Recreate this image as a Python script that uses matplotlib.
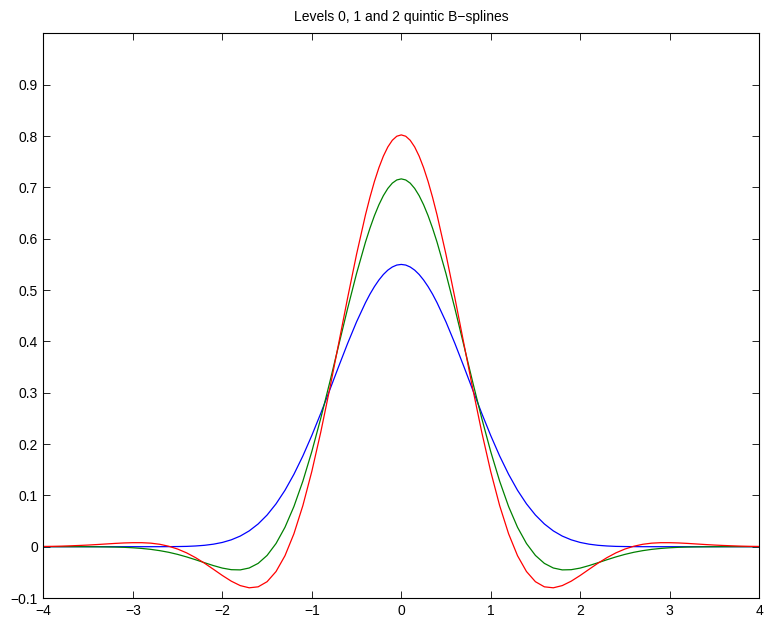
import matplotlib

matplotlib.use("Agg")
import matplotlib.pyplot as plt
from matplotlib.ticker import FuncFormatter

plt.rcParams["font.family"] = ["Liberation Sans", "DejaVu Sans"]

xs = [-4.0, -3.9, -3.8, -3.7, -3.6, -3.5, -3.4, -3.3, -3.2, -3.1, -3.0, -2.9, -2.8, -2.7,
      -2.6, -2.5, -2.4, -2.3, -2.2, -2.1, -2.0, -1.9, -1.8, -1.7, -1.6, -1.5, -1.4, -1.3,
      -1.2, -1.1, -1.0, -0.9, -0.8, -0.7, -0.6, -0.5, -0.4, -0.35, -0.3, -0.25, -0.2,
      -0.15, -0.1, -0.05, 0.0, 0.05, 0.1, 0.15, 0.2, 0.25, 0.3, 0.35, 0.4, 0.5, 0.6, 0.7,
      0.8, 0.9, 1.0, 1.1, 1.2, 1.3, 1.4, 1.5, 1.6, 1.7, 1.8, 1.9, 2.0, 2.1, 2.2, 2.3, 2.4,
      2.5, 2.6, 2.7, 2.8, 2.9, 3.0, 3.1, 3.2, 3.3, 3.4, 3.5, 3.6, 3.7, 3.8, 3.9, 4.0]

# level 0 (blue)
level0 = [0.0, 0.0, 0.0, 0.0, 0.0, 0.0, 0.0, 0.0, 0.0, 0.0, 0.0, 0.0, 0.0, 0.0,
          0.0001, 0.0003, 0.0006, 0.0014, 0.0027, 0.0049, 0.0083, 0.0134, 0.0207, 0.0308,
          0.0443, 0.0617, 0.0835, 0.1099, 0.1411, 0.1768, 0.2167, 0.2598, 0.3051, 0.3510,
          0.3959, 0.4380, 0.4755, 0.4921, 0.5068, 0.5196, 0.5304, 0.5389, 0.5450, 0.5488,
          0.5500,
          0.5488, 0.5450, 0.5389, 0.5304, 0.5196, 0.5068, 0.4921, 0.4755, 0.4380, 0.3959,
          0.3510, 0.3051, 0.2598, 0.2167, 0.1768, 0.1411, 0.1099, 0.0835, 0.0617, 0.0443,
          0.0308, 0.0207, 0.0134, 0.0083, 0.0049, 0.0027, 0.0014, 0.0006, 0.0003, 0.0001,
          0.0, 0.0, 0.0, 0.0, 0.0, 0.0, 0.0, 0.0, 0.0, 0.0, 0.0, 0.0, 0.0, 0.0]

# level 1 (green)
level1 = [0.0, 0.0, 0.0, 0.0, 0.0, -0.0001, -0.0002, -0.0004, -0.0007, -0.0012, -0.0021,
          -0.0034, -0.0052, -0.0077, -0.0109, -0.0150, -0.0199, -0.0254, -0.0312, -0.0368,
          -0.0417, -0.0448, -0.0452, -0.0415, -0.0325, -0.0170, 0.0062, 0.0378, 0.0783,
          0.1277, 0.1854, 0.2501, 0.3199, 0.3921, 0.4639, 0.5321, 0.5935, 0.6206, 0.6450,
          0.6662, 0.6840, 0.6981, 0.7084, 0.7146,
          0.7167,
          0.7146, 0.7084, 0.6981, 0.6840, 0.6662, 0.6450, 0.6206, 0.5935, 0.5321, 0.4639,
          0.3921, 0.3199, 0.2501, 0.1854, 0.1277, 0.0783, 0.0378, 0.0062, -0.0170, -0.0325,
          -0.0415, -0.0452, -0.0448, -0.0417, -0.0368, -0.0312, -0.0254, -0.0199, -0.0150,
          -0.0109, -0.0077, -0.0052, -0.0034, -0.0021, -0.0012, -0.0007, -0.0004, -0.0002,
          -0.0001, 0.0, 0.0, 0.0, 0.0, 0.0]

# level 2 (red)
level2 = [0.0005, 0.0007, 0.0011, 0.0017, 0.0024, 0.0032, 0.0042, 0.0053, 0.0064, 0.0073,
          0.0078, 0.0078, 0.0069, 0.0047, 0.0009, -0.0046, -0.0120, -0.0213, -0.0321,
          -0.0440, -0.0561, -0.0672, -0.0758, -0.0801, -0.0782, -0.0682, -0.0484, -0.0176,
          0.0252, 0.0801, 0.1466, 0.2231, 0.3073, 0.3957, 0.4845, 0.5695, 0.6466, 0.6808,
          0.7116, 0.7384, 0.7610, 0.7789, 0.7919, 0.7998,
          0.8024,
          0.7998, 0.7919, 0.7789, 0.7610, 0.7384, 0.7116, 0.6808, 0.6466, 0.5695, 0.4845,
          0.3957, 0.3073, 0.2231, 0.1466, 0.0801, 0.0252, -0.0176, -0.0484, -0.0682,
          -0.0782, -0.0801, -0.0758, -0.0672, -0.0561, -0.0440, -0.0321, -0.0213, -0.0120,
          -0.0046, 0.0009, 0.0047, 0.0069, 0.0078, 0.0078, 0.0073, 0.0064, 0.0053, 0.0042,
          0.0032, 0.0024, 0.0017, 0.0011, 0.0007, 0.0005]

x_ticks = [-4, -3, -2, -1, 0, 1, 2, 3, 4]
y_ticks = [-0.1, 0, 0.1, 0.2, 0.3, 0.4, 0.5, 0.6, 0.7, 0.8, 0.9]

fig = plt.figure(figsize=(7.64, 6.19), dpi=100)
ax = fig.add_axes([0.0569, 0.0339, 0.9366, 0.912])

ax.plot(xs, level0, color=(0, 0, 1), lw=0.9)
ax.plot(xs, level1, color=(0, 0.5, 0), lw=0.9)
ax.plot(xs, level2, color=(1, 0, 0), lw=0.9)

ax.set_xlim(-4, 4)
ax.set_ylim(-0.1, 1.0)
ax.set_xticks(x_ticks)
ax.set_yticks(y_ticks)
fmt = FuncFormatter(lambda v, _: f"{round(v, 2):g}".replace("-", "\u2212"))
ax.xaxis.set_major_formatter(fmt)
ax.yaxis.set_major_formatter(fmt)
ax.tick_params(direction="in", length=5, width=0.6, top=True, right=True,
               labelsize=10, pad=4)
for s in ax.spines.values():
    s.set_linewidth(0.8)

ax.set_title("Levels 0, 1 and 2 quintic B\u2212splines", fontsize=10, pad=9)

fig.savefig("out.png", dpi=100)
